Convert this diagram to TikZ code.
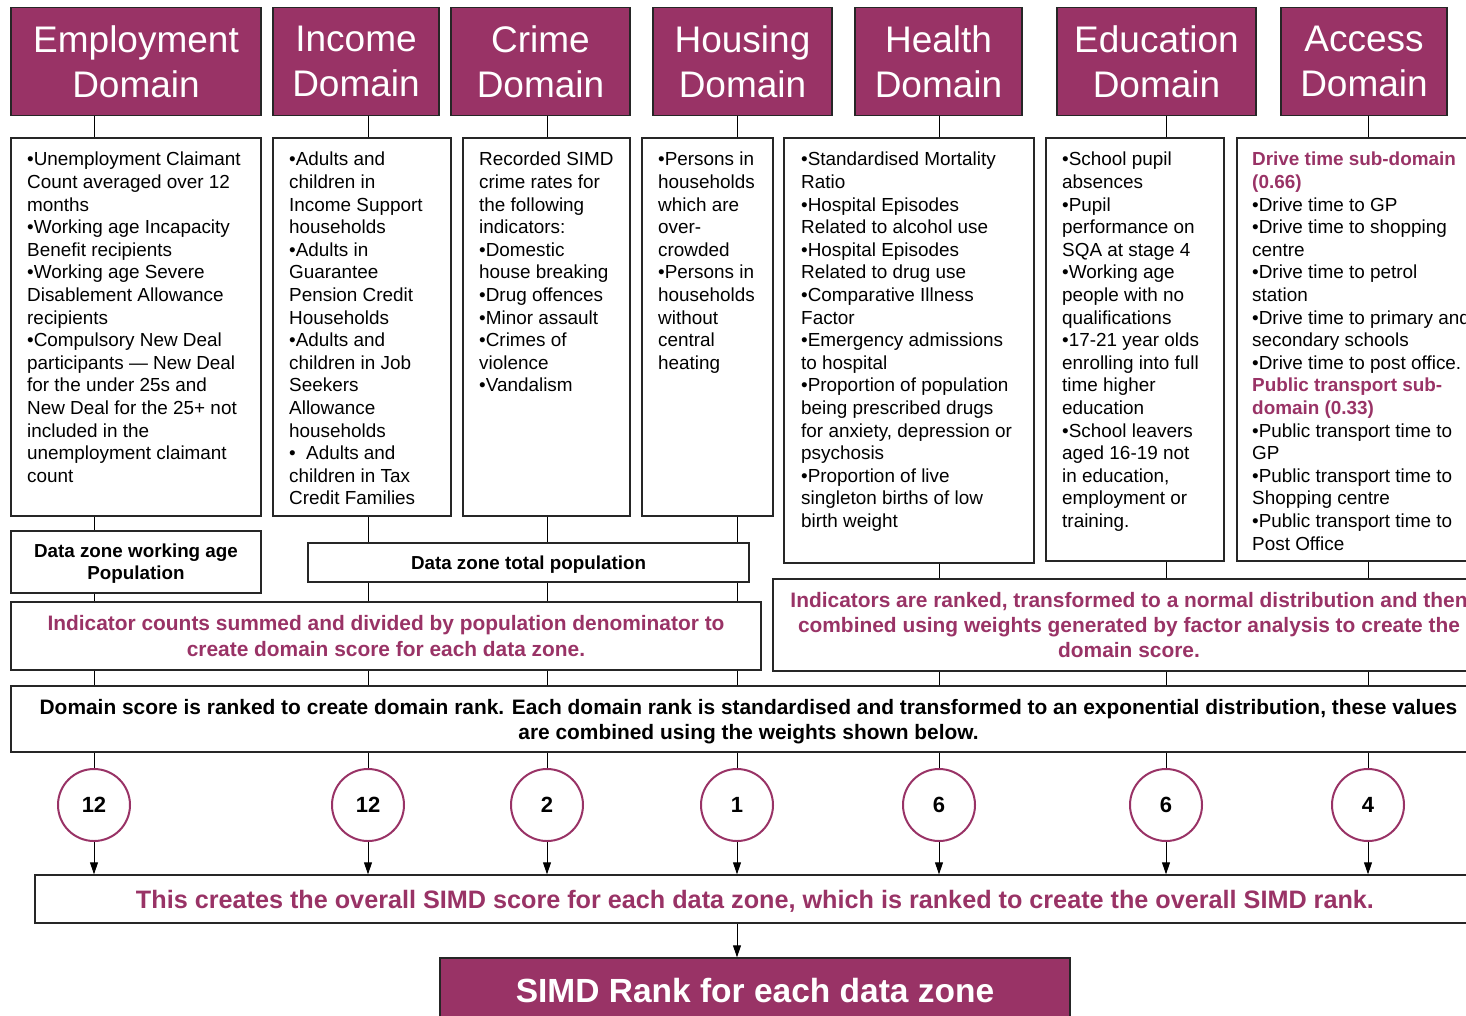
\documentclass[tikz,border=0pt]{standalone}
\usepackage{fontspec}
\setmainfont{Liberation Sans}
\usetikzlibrary{arrows.meta, positioning, calc}
\definecolor{simdpurple}{RGB}{153,51,102}

\tikzset{
  domainhead/.style={draw=black!85, line width=1.4pt, fill=simdpurple, text=white, minimum height=108pt,
    inner sep=0pt, align=center, font=\fontsize{37}{45}\selectfont},
  listbox/.style={draw=black!85, line width=1.4pt, inner sep=0pt},
  listtext/.style={anchor=north west, inner sep=0pt, align=left, font=\fontsize{18.9}{22.6}\selectfont},
  stagebox/.style={draw=black!85, line width=1.4pt, inner sep=0pt, align=center, text depth=0pt},
  weight/.style={circle, draw=simdpurple, line width=2pt, minimum size=72pt, inner sep=0pt,
    font=\bfseries\fontsize{22}{26}\selectfont},
  link/.style={line width=0.9pt},
  feed/.style={line width=0.9pt, -{Triangle[length=12pt,width=8pt]}},
}
\newcommand{\subhead}[1]{\textcolor{simdpurple}{\bfseries #1}}

\begin{document}
\begin{tikzpicture}[x=1pt,y=-1pt]
  \useasboundingbox (0,0) rectangle (1466,1015);
  \clip (0,0) rectangle (1466,1015);

  % domain headers
  \node[domainhead, minimum width=250pt] (hemp) at (136,61.5) {Employment\\Domain};
  \node[domainhead, minimum width=166pt] (hinc) at (356,61.5) {Income\\Domain};
  \node[domainhead, minimum width=179pt] (hcri) at (540.5,61.5) {Crime\\Domain};
  \node[domainhead, minimum width=179pt] (hhou) at (742.5,61.5) {Housing\\Domain};
  \node[domainhead, minimum width=167pt] (hhea) at (938.5,61.5) {Health\\Domain};
  \node[domainhead, minimum width=199pt] (hedu) at (1156.5,61.5) {Education\\Domain};
  \node[domainhead, minimum width=166pt] (hacc) at (1364,61.5) {Access\\Domain};

  % indicator lists
  \node[listbox, minimum width=250pt, minimum height=378pt] (temp) at (136,327) {};
  \node[listbox, minimum width=178pt, minimum height=378pt] (tinc) at (362,327) {};
  \node[listbox, minimum width=167pt, minimum height=378pt] (tcri) at (546.5,327) {};
  \node[listbox, minimum width=131pt, minimum height=378pt] (thou) at (707.5,327) {};
  \node[listbox, minimum width=250pt, minimum height=425pt] (thea) at (909,350.5) {};
  \node[listbox, minimum width=178pt, minimum height=423pt] (tedu) at (1135,349.5) {};
  \node[listbox, minimum width=262pt, minimum height=423pt] (tacc) at (1368,349.5) {};

  \node[listtext] (lemp) at (27,152) {•Unemployment Claimant\\Count averaged over 12\\months\\•Working age Incapacity\\Benefit recipients\\•Working age Severe\\Disablement Allowance\\recipients\\•Compulsory New Deal\\participants — New Deal\\for the under 25s and\\New Deal for the 25+ not\\included in the\\unemployment claimant\\count};
  \node[listtext] (linc) at (289,152) {•Adults and\\children in\\Income Support\\households\\•Adults in\\Guarantee\\Pension Credit\\Households\\•Adults and\\children in Job\\Seekers\\Allowance\\households\\•\hspace{0.55em}Adults and\\children in Tax\\Credit Families};
  \node[listtext] (lcri) at (479,152) {Recorded SIMD\\crime rates for\\the following\\indicators:\\•Domestic\\house breaking\\•Drug offences\\•Minor assault\\•Crimes of\\violence\\•Vandalism};
  \node[listtext] (lhou) at (658,152) {•Persons in\\households\\which are\\over-\\crowded\\•Persons in\\households\\without\\central\\heating};
  \node[listtext] (lhea) at (801,152) {•Standardised Mortality\\Ratio\\•Hospital Episodes\\Related to alcohol use\\•Hospital Episodes\\Related to drug use\\•Comparative Illness\\Factor\\•Emergency admissions\\to hospital\\•Proportion of population\\being prescribed drugs\\for anxiety, depression or\\psychosis\\•Proportion of live\\singleton births of low\\birth weight};
  \node[listtext] (ledu) at (1062,152) {•School pupil\\absences\\•Pupil\\performance on\\SQA at stage 4\\•Working age\\people with no\\qualifications\\•17-21 year olds\\enrolling into full\\time higher\\education\\•School leavers\\aged 16-19 not\\in education,\\employment or\\training.};
  \node[listtext] (lacc) at (1252,152) {\subhead{Drive time sub-domain}\\\subhead{(0.66)}\\•Drive time to GP\\•Drive time to shopping\\centre\\•Drive time to petrol\\station\\•Drive time to primary and\\secondary schools\\•Drive time to post office.\\\subhead{Public transport sub-}\\\subhead{domain (0.33)}\\•Public transport time to\\GP\\•Public transport time to\\Shopping centre\\•Public transport time to\\Post Office};

  % denominators and scoring
  \node[stagebox, minimum width=250pt, minimum height=62pt, font=\bfseries\fontsize{18.8}{22}\selectfont] (dzwork) at (136,562) {Data zone working age\\Population};
  \node[stagebox, minimum width=441pt, minimum height=39pt, font=\bfseries\fontsize{18.8}{22}\selectfont] (dztot) at (528.5,562.5) {Data zone total population};
  \node[stagebox, minimum width=750pt, minimum height=68pt, text=simdpurple, font=\bfseries\fontsize{20.9}{26}\selectfont] (sumbox) at (386,636) {Indicator counts summed and divided by population denominator to\\create domain score for each data zone.};
  \node[stagebox, minimum width=712pt, minimum height=92pt, text=simdpurple, font=\bfseries\fontsize{20.9}{25}\selectfont] (normbox) at (1129,625) {Indicators are ranked, transformed to a normal distribution and then\\combined using weights generated by factor analysis to create the\\domain score.};
  \node[stagebox, minimum width=1475pt, minimum height=66pt, font=\bfseries\fontsize{20.9}{25}\selectfont] (rankbox) at (748.5,719) {Domain score is ranked to create domain rank. Each domain rank is standardised and transformed to an exponential distribution, these values\\are combined using the weights shown below.};

  % weights
  \foreach \w/\cx/\v in {w1/94/12, w2/368/12, w3/547/2, w4/737/1, w5/939/6, w6/1166/6, w7/1368/4}
    \node[weight] (\w) at (\cx,805) {\v};

  \node[stagebox, minimum width=1440pt, minimum height=48pt, text=simdpurple, font=\bfseries\fontsize{25.2}{28}\selectfont] (overall) at (755,899) {This creates the overall SIMD score for each data zone, which is ranked to create the overall SIMD rank.};
  \node[stagebox, fill=simdpurple, text=white, minimum width=630pt, minimum height=64pt, font=\bfseries\fontsize{33.5}{38}\selectfont] (final) at (755,990) {SIMD Rank for each data zone};

  % connectors
  \foreach \h/\t/\w in {hemp/temp/w1, hinc/tinc/w2, hcri/tcri/w3, hhou/thou/w4, hhea/thea/w5, hedu/tedu/w6, hacc/tacc/w7}
    \draw[link] (\h.south -| \w) -- (\t.north -| \w);
  \draw[link] (temp.south -| w1) -- (dzwork.north -| w1);
  \draw[link] (dzwork.south -| w1) -- (sumbox.north -| w1);
  \foreach \t/\w in {tinc/w2, tcri/w3, thou/w4} {
    \draw[link] (\t.south -| \w) -- (dztot.north -| \w);
    \draw[link] (dztot.south -| \w) -- (sumbox.north -| \w);
  }
  \foreach \t/\w in {thea/w5, tedu/w6, tacc/w7} {
    \draw[link] (\t.south -| \w) -- (normbox.north -| \w);
    \draw[link] (normbox.south -| \w) -- (rankbox.north -| \w);
  }
  \foreach \w in {w1,w2,w3,w4}
    \draw[link] (sumbox.south -| \w) -- (rankbox.north -| \w);
  \foreach \w in {w1,w2,w3,w4,w5,w6,w7} {
    \draw[link] (rankbox.south -| \w) -- (\w.north);
    \draw[feed] (\w.south) -- (overall.north -| \w);
  }
  \draw[feed] (overall.south -| w4) -- (final.north -| w4);
\end{tikzpicture}
\end{document}
